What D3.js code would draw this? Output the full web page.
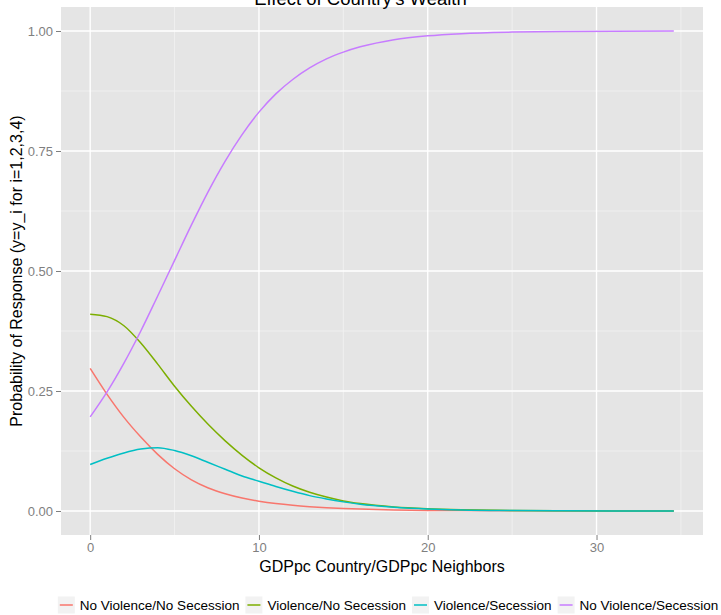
<!doctype html>
<html lang="en">

<head>
  <title>Effect of Country's Wealth</title>
  <meta charset="utf-8" />
  <script src="https://cdn.jsdelivr.net/npm/d3@7"></script>
  <style>
    body { margin: 0; background: #fff; }
    svg { display: block; font-family: "Liberation Sans", Arial, sans-serif; }
  </style>
  <script>
    // values
    const xValues = [0, 1, 2, 3, 4, 5, 6, 7, 8, 9, 10, 11, 12, 13, 14, 15, 16, 18, 20, 22, 25, 28, 31, 34.58];
    const noViolenceNoSecession = [0.297, 0.243, 0.195, 0.154, 0.118, 0.088, 0.065, 0.048, 0.036, 0.027, 0.0205, 0.0155,
      0.0118, 0.009, 0.0068, 0.0052, 0.004, 0.0023, 0.0013, 0.0008, 0.0004, 0.0002, 0.0001, 0.00005];
    const violenceNoSecession = [0.410, 0.405, 0.386, 0.350, 0.306, 0.260, 0.218, 0.180, 0.146, 0.116, 0.090, 0.069,
      0.052, 0.039, 0.029, 0.021, 0.0155, 0.0085, 0.0048, 0.0027, 0.0012, 0.0005, 0.0002, 0.0001];
    const violenceSecession = [0.097, 0.110, 0.121, 0.129, 0.132, 0.126, 0.115, 0.101, 0.087, 0.073, 0.062, 0.051,
      0.041, 0.032, 0.025, 0.019, 0.014, 0.008, 0.0043, 0.0023, 0.001, 0.0004, 0.00015, 0.00005];
    const noViolenceSecession = [0.196, 0.248, 0.308, 0.375, 0.448, 0.522, 0.596, 0.666, 0.729, 0.784, 0.831, 0.869,
      0.899, 0.923, 0.942, 0.956, 0.967, 0.982, 0.990, 0.9945, 0.9977, 0.9991, 0.9996, 0.9999];

    const seriesNames = ["No Violence/No Secession", "Violence/No Secession", "Violence/Secession", "No Violence/Secession"];
    const seriesColors = ["#F8766D", "#7CAE00", "#00BFC4", "#C77CFF"];
    const xTicks = [0, 10, 20, 30];
    const xMinor = [5, 15, 25, 35];
    const yTicks = [0, 0.25, 0.5, 0.75, 1];
    const yMinor = [0.125, 0.375, 0.625, 0.875];

    window.onload = () => {
      const w = 721;
      const h = 615;
      const panel = { left: 61, right: 703, top: 7, bottom: 535 };

      const svg = d3.select("#chart").append("svg").attr("width", w).attr("height", h);

      const xMax = d3.max(xValues);
      const xPad = 0.05 * xMax;
      const x = d3.scaleLinear().domain([-xPad, xMax + xPad]).range([panel.left, panel.right]);
      const y = d3.scaleLinear().domain([-0.05, 1.05]).range([panel.bottom, panel.top]);

      // panel background and grid
      svg.append("rect")
        .attr("x", panel.left)
        .attr("y", panel.top)
        .attr("width", panel.right - panel.left)
        .attr("height", panel.bottom - panel.top)
        .style("fill", "#e5e5e5");

      svg.append("g").selectAll("line").data(yMinor).enter().append("line")
        .attr("x1", panel.left).attr("x2", panel.right)
        .attr("y1", d => y(d)).attr("y2", d => y(d))
        .style("stroke", "#f2f2f2").style("stroke-width", 0.8);
      svg.append("g").selectAll("line").data(xMinor).enter().append("line")
        .attr("y1", panel.top).attr("y2", panel.bottom)
        .attr("x1", d => x(d)).attr("x2", d => x(d))
        .style("stroke", "#f2f2f2").style("stroke-width", 0.8);
      svg.append("g").selectAll("line").data(yTicks).enter().append("line")
        .attr("x1", panel.left).attr("x2", panel.right)
        .attr("y1", d => y(d)).attr("y2", d => y(d))
        .style("stroke", "#fff").style("stroke-width", 1.4);
      svg.append("g").selectAll("line").data(xTicks).enter().append("line")
        .attr("y1", panel.top).attr("y2", panel.bottom)
        .attr("x1", d => x(d)).attr("x2", d => x(d))
        .style("stroke", "#fff").style("stroke-width", 1.4);

      // lines
      const allSeries = [noViolenceNoSecession, violenceNoSecession, violenceSecession, noViolenceSecession];
      const line = d3.line()
        .x(d => x(d[0]))
        .y(d => y(d[1]))
        .curve(d3.curveMonotoneX);

      svg.append("g").selectAll("path")
        .data(allSeries)
        .enter()
        .append("path")
        .attr("d", s => line(s.map((v, i) => [xValues[i], v])))
        .style("fill", "none")
        .style("stroke", (d, i) => seriesColors[i])
        .style("stroke-width", 1.5);

      // axes
      const xAxis = svg.append("g")
        .attr("transform", "translate(0," + panel.bottom + ")")
        .call(d3.axisBottom(x).tickValues(xTicks).tickSize(5).tickPadding(3).tickFormat(d3.format("d")));
      const yAxis = svg.append("g")
        .attr("transform", "translate(" + panel.left + ",0)")
        .call(d3.axisLeft(y).tickValues(yTicks).tickSize(5).tickPadding(3).tickFormat(d3.format(".2f")));
      [xAxis, yAxis].forEach(a => {
        a.select(".domain").remove();
        a.selectAll("line").style("stroke", "#7f7f7f");
        a.selectAll("text")
          .style("fill", "#7f7f7f")
          .style("font-size", "13px")
          .style("font-family", "'Liberation Sans', Arial, sans-serif");
      });

      // titles
      svg.append("text")
        .text("Effect of Country's Wealth")
        .attr("x", w / 2)
        .attr("y", 5)
        .attr("text-anchor", "middle")
        .style("font-size", "18.5px");

      svg.append("text")
        .text("GDPpc Country/GDPpc Neighbors")
        .attr("x", (panel.left + panel.right) / 2)
        .attr("y", 572)
        .attr("text-anchor", "middle")
        .style("font-size", "16px");

      svg.append("text")
        .text("Probability of Response (y=y_i for i=1,2,3,4)")
        .attr("transform", "translate(22," + (panel.top + panel.bottom) / 2 + ") rotate(-90)")
        .attr("text-anchor", "middle")
        .style("font-size", "16px");

      // legend
      const legend = svg.append("g");
      const keySize = 17;
      const keyGap = 5;
      const itemGap = 6;
      let cursor = 0;
      seriesNames.forEach((name, i) => {
        const item = legend.append("g").attr("transform", "translate(" + cursor + ",0)");
        item.append("rect")
          .attr("x", 0).attr("y", -keySize / 2)
          .attr("width", keySize).attr("height", keySize)
          .style("fill", "#f2f2f2");
        item.append("line")
          .attr("x1", 2).attr("x2", keySize - 2)
          .attr("y1", 0).attr("y2", 0)
          .style("stroke", seriesColors[i])
          .style("stroke-width", 1.5);
        const t = item.append("text")
          .text(name)
          .attr("x", keySize + keyGap)
          .attr("y", 4.5)
          .style("font-size", "13.5px");
        cursor += keySize + keyGap + t.node().getComputedTextLength() + itemGap;
      });
      const legendWidth = cursor - itemGap;
      legend.attr("transform", "translate(" + (388 - legendWidth / 2) + ",605)");
    }
  </script>
</head>

<body>
  <div id="chart"></div>
</body>

</html>
